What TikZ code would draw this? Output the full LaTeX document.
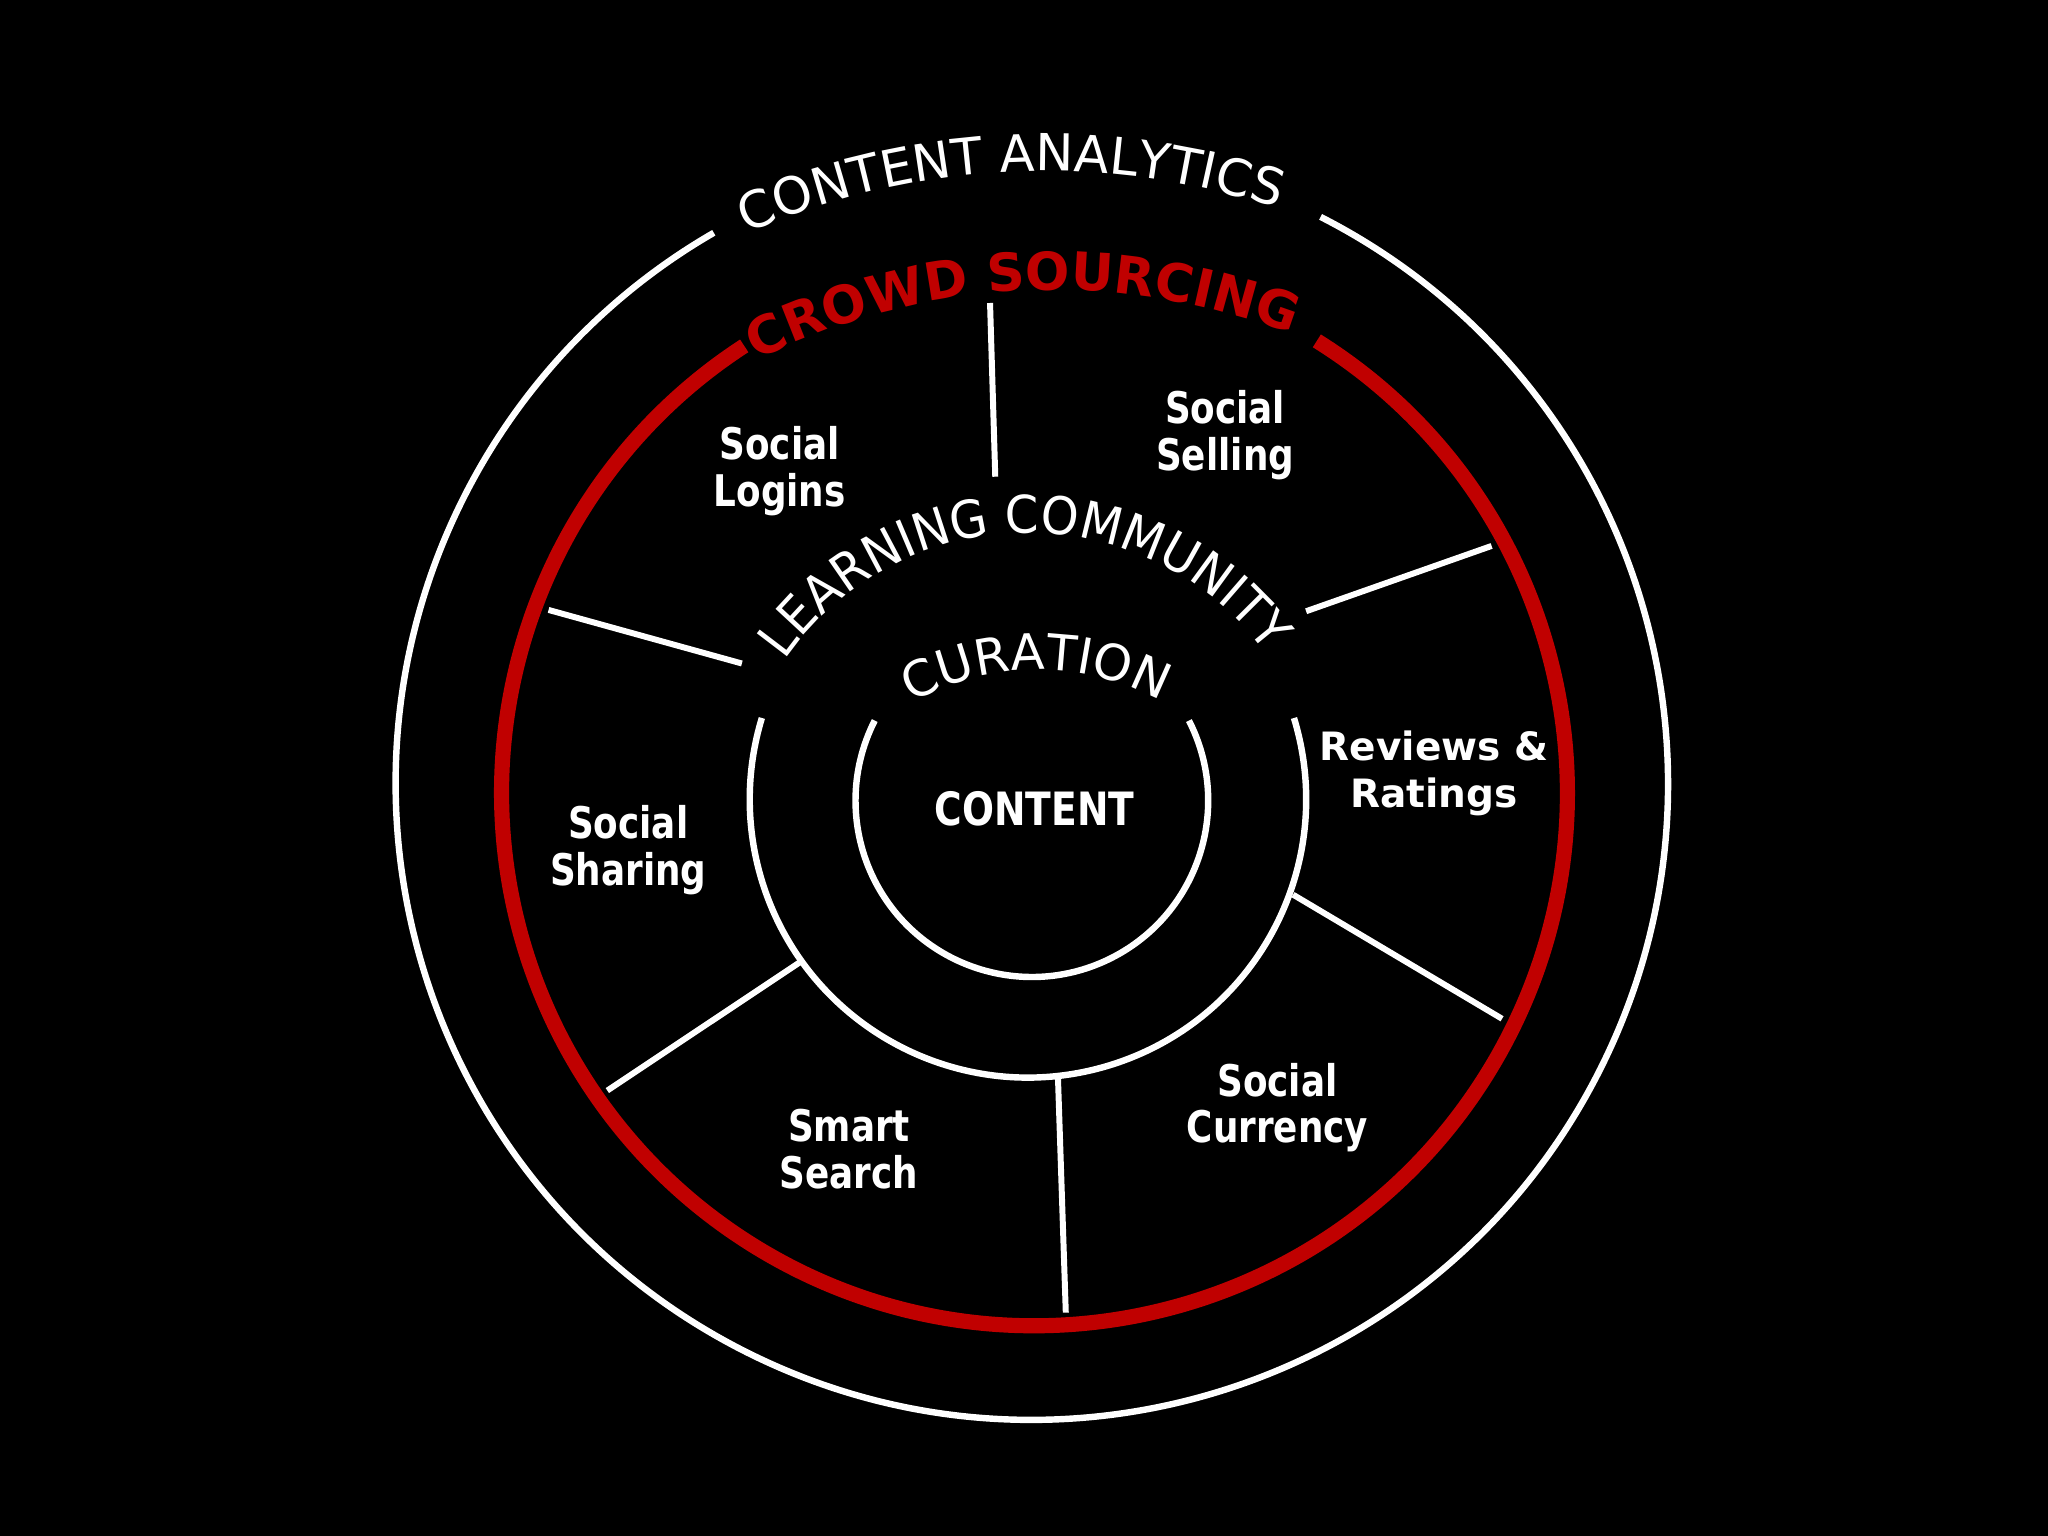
\documentclass[tikz,border=0pt]{standalone}
\usepackage{fontspec}
\setmainfont{DejaVu Sans}
\newfontfamily\labelfont{DejaVu Sans}[FakeStretch=0.82]
\newfontfamily\narrowfont{DejaVu Sans}[FakeStretch=0.93]
\usetikzlibrary{decorations.text}

\definecolor{crowd}{HTML}{C00000}
\definecolor{ringwhite}{HTML}{FFFFFF}

\begin{document}
\begin{tikzpicture}[text=ringwhite]
  \fill[black] (-7.90,-5.70) rectangle (7.78,6.06);
  \useasboundingbox (-7.90,-5.70) rectangle (7.78,6.06);

  % Four rings, each left open at the top where its title runs.
  \tikzset{ringline/.style={ringwhite,line width=1.4pt}}
  \coordinate (analyticsc) at (0,0.06);
  \coordinate (crowdc) at (0.02,-0.01);
  \coordinate (curationc) at (-0.03,-0.06);
  \coordinate (contentc) at (0,-0.07);
  \draw[ringline] ([shift={(63:4.87)}]analyticsc) arc[start angle=63,end angle=-240,radius=4.87];
  \draw[crowd,line width=3.3pt] ([shift={(58:4.08)}]crowdc) arc[start angle=58,end angle=-237,radius=4.08];
  \draw[ringline] ([shift={(17:2.13)}]curationc) arc[start angle=17,end angle=-197,radius=2.13];
  \draw[ringline] ([shift={(27:1.35)}]contentc) arc[start angle=27,end angle=-207,radius=1.35];

  % Ring titles bend along wide arcs centred a little below the rings.
  \coordinate (ttlanalytics) at (0.10,-0.95);
  \coordinate (ttlcrowd) at (0.17,-1.23);
  \coordinate (ttllearning) at (-0.03,-0.28);
  \coordinate (ttlcuration) at (0.05,-1.07);
  \path[decorate,decoration={text along path,text align=center,
      text={|\fontsize{11.1}{13}\selectfont\color{ringwhite}|CONTENT ANALYTICS}}]
    ([shift={(162.7:5.70)}]ttlanalytics) arc[start angle=162.7,end angle=22.7,radius=5.70];
  \path[decorate,decoration={text along path,text align=center,
      text={|\bfseries\fontsize{11.4}{13}\selectfont\color{crowd}|CROWD SOURCING}}]
    ([shift={(162.8:5.07)}]ttlcrowd) arc[start angle=162.8,end angle=22.8,radius=5.07];
  \path[decorate,decoration={text along path,text align=center,
      text={|\narrowfont\fontsize{11.3}{13}\selectfont\color{ringwhite}|LEARNING COMMUNITY}}]
    ([shift={(175.8:2.26)}]ttllearning) arc[start angle=175.8,end angle=5.8,radius=2.26];
  \path[decorate,decoration={text along path,text align=center,
      text={|\fontsize{10.8}{13}\selectfont\color{ringwhite}|CURATION}}]
    ([shift={(160.5:2.00)}]ttlcuration) arc[start angle=160.5,end angle=20.5,radius=2.00];

  % Spokes split the crowd-sourcing band into six segments.
  \tikzset{spoke/.style={ringwhite,line width=1.3pt}}
  \coordinate (sp1a) at (-0.32,3.74);  \coordinate (sp1b) at (-0.28,2.41);
  \coordinate (sp2a) at (2.10,1.38);   \coordinate (sp2b) at (3.52,1.88);
  \coordinate (sp3a) at (2.00,-0.79);  \coordinate (sp3b) at (3.60,-1.74);
  \coordinate (sp4a) at (0.20,-2.19);  \coordinate (sp4b) at (0.26,-3.99);
  \coordinate (sp5a) at (-1.78,-1.31); \coordinate (sp5b) at (-3.25,-2.29);
  \coordinate (sp6a) at (-3.70,1.39);  \coordinate (sp6b) at (-2.22,0.98);
  \draw[spoke] (sp1a) -- (sp1b);
  \draw[spoke] (sp2a) -- (sp2b);
  \draw[spoke] (sp3a) -- (sp3b);
  \draw[spoke] (sp4a) -- (sp4b);
  \draw[spoke] (sp5a) -- (sp5b);
  \draw[spoke] (sp6a) -- (sp6b);

  % One label in each segment, plus the core.
  \tikzset{segment/.style={font=\labelfont\bfseries\fontsize{9.5}{10.2}\selectfont,align=center,inner sep=0pt}}
  \node[segment] (logins) at (-1.93,2.45) {Social\\Logins};
  \node[segment] (selling) at (1.48,2.73) {Social\\Selling};
  \node[segment,font=\bfseries\fontsize{8.5}{10.1}\selectfont] (reviews) at (3.08,0.14) {Reviews \&\\Ratings};
  \node[segment] (sharing) at (-3.09,-0.45) {Social\\Sharing};
  \node[segment] (search) at (-1.40,-2.74) {Smart\\Search};
  \node[segment] (currency) at (1.88,-2.42) {Social\\Currency};
  \node[segment,font=\labelfont\bfseries\fontsize{10}{12}\selectfont] (content) at (0.02,-0.13) {CONTENT};
\end{tikzpicture}
\end{document}
